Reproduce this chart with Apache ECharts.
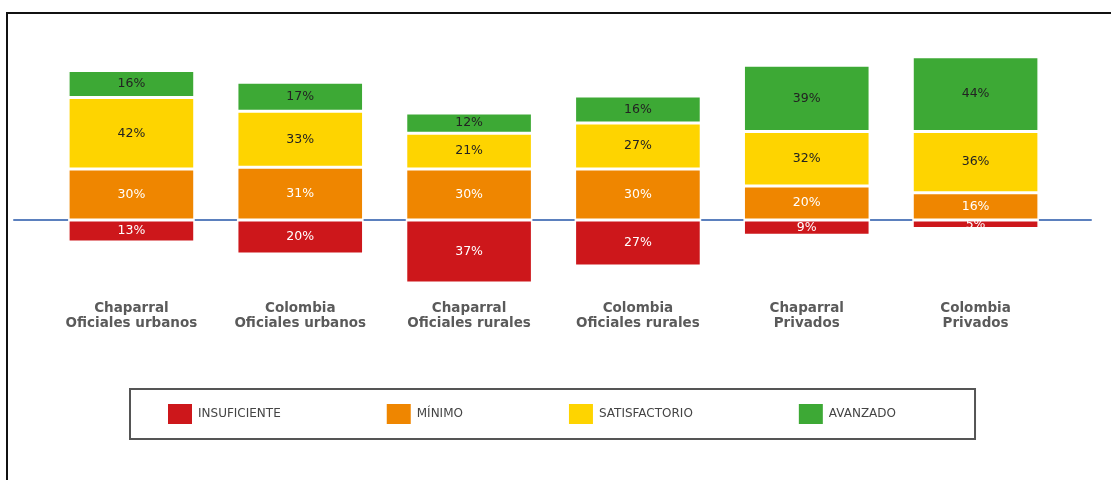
<!DOCTYPE html>
<html>
<head>
<meta charset="utf-8">
<script src="https://cdn.jsdelivr.net/npm/echarts@6/dist/echarts.min.js"></script>
<style>
  html, body { margin: 0; padding: 0; background: #fff; }
  #wrap { position: relative; width: 1111px; height: 480px; }
  #chart { width: 1111px; height: 480px; }
  #frame { position: absolute; left: 6px; top: 12px; right: 0; bottom: 0;
           border-top: 2px solid #111; border-left: 2px solid #111; pointer-events: none; }
</style>
</head>
<body>
<div id="wrap"><div id="chart"></div><div id="frame"></div></div>
<script>
const categories = [
  'Chaparral\nOficiales urbanos',
  'Colombia\nOficiales urbanos',
  'Chaparral\nOficiales rurales',
  'Colombia\nOficiales rurales',
  'Chaparral\nPrivados',
  'Colombia\nPrivados'
];
const insuficiente = [13, 20, 37, 27, 9, 5];
const minimo = [30, 31, 30, 30, 20, 16];
const satisfactorio = [42, 33, 21, 27, 32, 36];
const avanzado = [16, 17, 12, 16, 39, 44];
const seriesNames = ['INSUFICIENTE', 'MÍNIMO', 'SATISFACTORIO', 'AVANZADO'];

const colors = ['#CD171B', '#EF8600', '#FED400', '#3DA935'];
const labelColors = ['#ffffff', '#ffffff', '#222222', '#222222'];

const chart = echarts.init(document.getElementById('chart'));

function barSeries(idx, values, negative) {
  return {
    name: seriesNames[idx],
    type: 'bar',
    stack: 'total',
    barCategoryGap: '25%',
    xAxisIndex: 0, yAxisIndex: 0,
    data: values.map(v => negative ? -v : v),
    itemStyle: { color: colors[idx], borderColor: '#ffffff', borderWidth: 1.5 },
    label: {
      show: true, position: 'inside',
      formatter: p => Math.abs(p.value) + '%',
      color: labelColors[idx],
      fontFamily: 'DejaVu Sans', fontSize: 12.5
    },
    emphasis: { disabled: true }
  };
}

chart.setOption({
  animation: false,
  backgroundColor: '#ffffff',
  grid: [
    { left: 47, right: 51, top: 50, bottom: 183.5 },
    { left: 14, right: 20, top: 50, bottom: 183.5 }
  ],
  xAxis: [
    {
      gridIndex: 0, type: 'category', data: categories, position: 'bottom',
      axisLine: { show: false }, axisTick: { show: false },
      axisLabel: { margin: 4, color: '#5a5a5a', fontFamily: 'DejaVu Sans', fontWeight: 'bold', fontSize: 13.5, lineHeight: 15, interval: 0 }
    },
    {
      gridIndex: 1, type: 'value', min: 0, max: 1,
      axisLine: { show: true, onZero: true, lineStyle: { color: '#5B80BE', width: 2 } },
      axisTick: { show: false }, axisLabel: { show: false }, splitLine: { show: false }
    }
  ],
  yAxis: [
    { gridIndex: 0, type: 'value', min: -45, max: 100, show: false, splitLine: { show: false } },
    { gridIndex: 1, type: 'value', min: -45, max: 100, show: false, splitLine: { show: false } }
  ],
  legend: {
    data: seriesNames,
    left: 130, top: 389,
    orient: 'horizontal',
    itemWidth: 26, itemHeight: 22, itemGap: 104,
    icon: 'rect',
    padding: [13, 79, 13, 36],
    borderColor: '#555555', borderWidth: 2,
    textStyle: { color: '#444444', fontFamily: 'DejaVu Sans', fontSize: 12 },
    selectedMode: false
  },
  series: [
    barSeries(0, insuficiente, true),
    barSeries(1, minimo, false),
    barSeries(2, satisfactorio, false),
    barSeries(3, avanzado, false)
  ]
});
</script>
</body>
</html>
